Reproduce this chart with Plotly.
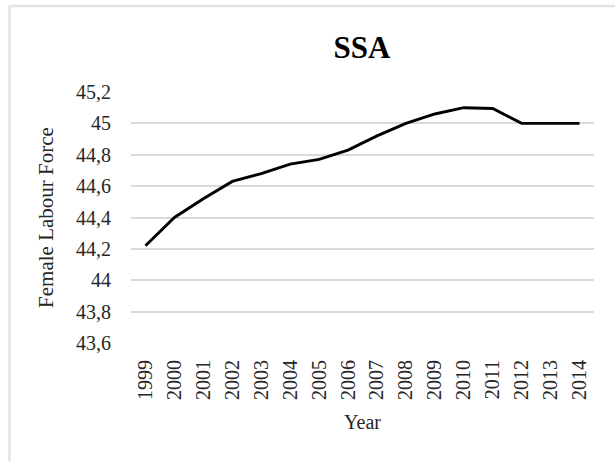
import plotly.graph_objects as go

# Female labour force participation, Sub-Saharan Africa
years = ["1999", "2000", "2001", "2002", "2003", "2004", "2005", "2006",
         "2007", "2008", "2009", "2010", "2011", "2012", "2013", "2014"]
female_labour = [44.22, 44.40, 44.52, 44.63, 44.68, 44.74, 44.77, 44.83,
                 44.92, 45.00, 45.06, 45.10, 45.095, 45.00, 45.00, 45.00]

W, H = 615, 462
L, R, T, B = 131, 21, 92, 119
FONT = "Liberation Serif, Times New Roman, serif"
TXT = "#262626"

fig = go.Figure()
fig.add_trace(go.Scatter(
    x=years, y=female_labour, mode="lines",
    line=dict(color="black", width=2.9),
    showlegend=False, hoverinfo="x+y",
))

pw, ph = W - L - R, H - T - B


def px_x(p):
    return (p - L) / pw


def px_y(p):
    return (H - B - p) / ph


# light chart-area frame (left and top edges)
frame = dict(color="#e4e4e4", width=2.5)
fig.add_shape(type="line", xref="paper", yref="paper",
              x0=px_x(9.5), x1=px_x(617), y0=px_y(6), y1=px_y(6), line=frame)
fig.add_shape(type="line", xref="paper", yref="paper",
              x0=px_x(9.5), x1=px_x(9.5), y0=px_y(6), y1=px_y(470), line=frame)

fig.update_layout(
    width=W, height=H, autosize=False,
    margin=dict(l=L, r=R, t=T, b=B, pad=0),
    paper_bgcolor="white", plot_bgcolor="white",
    separators=", ",
    font=dict(family=FONT, size=20, color=TXT),
    title=dict(text="<b>SSA</b>", x=362 / W, xanchor="center",
               y=1 - 47 / H, yanchor="middle",
               font=dict(family=FONT, size=31, color="black")),
)
fig.update_xaxes(
    type="category", range=[-0.5, 15.5],
    tickangle=-90, ticks="", showgrid=False, showline=False, zeroline=False,
    tickfont=dict(size=20, color=TXT), ticklabelstandoff=12,
    title=dict(text="Year", font=dict(size=20, color=TXT), standoff=15),
)
fig.update_yaxes(
    range=[43.6, 45.2], dtick=0.2, tick0=43.6,
    showgrid=True, gridcolor="#d9d9d9", gridwidth=1.5,
    zeroline=False, showline=False, ticks="",
    tickfont=dict(size=20, color=TXT), ticklabelstandoff=19,
    title=dict(text="Female Labour Force", font=dict(size=21, color=TXT), standoff=16),
)

fig.write_html("out.html")
